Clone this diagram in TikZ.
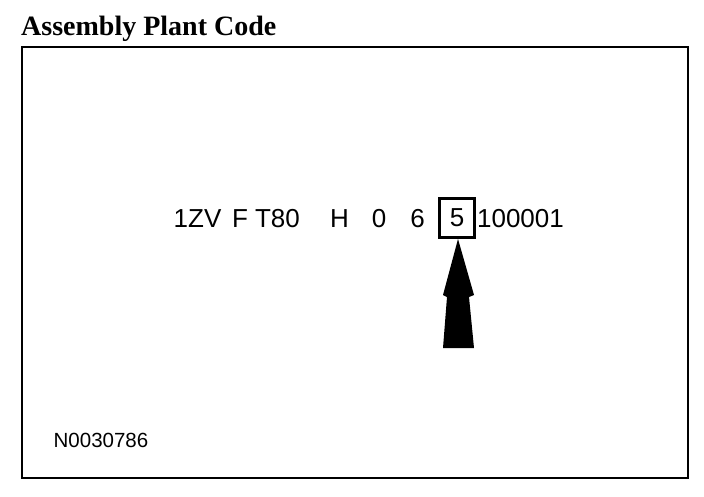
\documentclass[tikz,border=0pt]{standalone}
\usepackage{fontspec}
\setmainfont{Liberation Serif}
\newfontfamily\arialf{Liberation Sans}
\begin{document}
\begin{tikzpicture}[x=1pt,y=-1pt,
  codetext/.style={font=\arialf\fontsize{26}{29}\selectfont, inner sep=0pt, anchor=base},
  reftext/.style={font=\arialf\fontsize{20.5}{23}\selectfont, inner sep=0pt, anchor=base},
  titletext/.style={font=\bfseries\fontsize{28}{32}\selectfont, inner sep=0pt, anchor=base west},
  frame/.style={draw=black, line width=2.3pt},
  boxed/.style={draw=black, line width=2.2pt, minimum width=35pt, minimum height=39pt, inner sep=0pt, font=\arialf\fontsize{26}{29}\selectfont}
]
\useasboundingbox (0,0) rectangle (704,496);
\fill[white] (0,0) rectangle (704,496);
\node[titletext] (title) at (21,35) {Assembly Plant Code};
\draw[frame] (22,47) rectangle (688,478);
\node[codetext] (t1) at (197.5,227) {1ZV};
\node[codetext] (t2) at (240,227) {F};
\node[codetext] (t3) at (277.5,227) {T80};
\node[codetext] (t4) at (339.5,227) {H};
\node[codetext] (t5) at (379,227) {0};
\node[codetext] (t6) at (417.5,227) {6};
\node[boxed] (five) at (457,218) {5};
\node[codetext] (t8) at (520.5,227) {100001};
\fill[black] (458,239) -- (474,295) -- (469,297) -- (474,348) -- (443,348) -- (447,297) -- (443,295) -- cycle;
\node[reftext] (ref) at (101,447) {N0030786};
\end{tikzpicture}
\end{document}
